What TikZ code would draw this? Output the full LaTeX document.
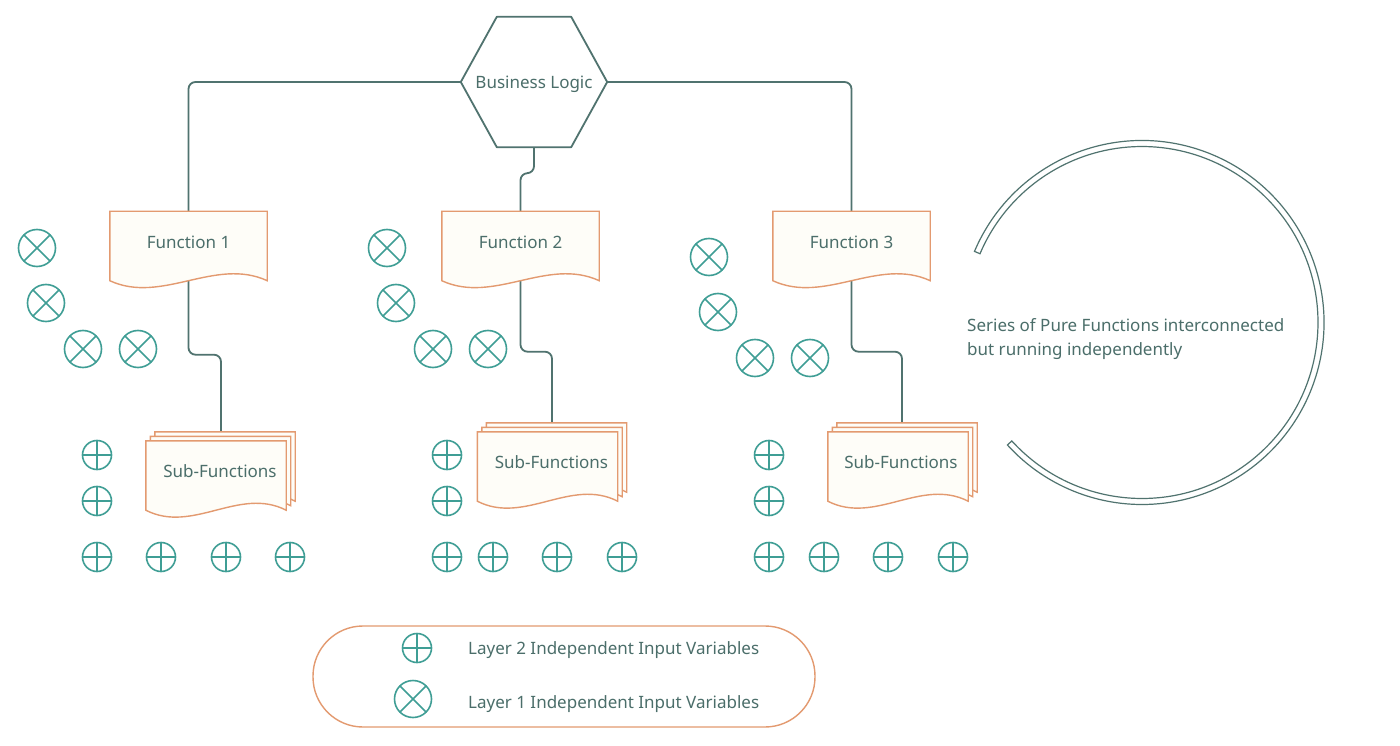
\documentclass[tikz,border=0pt]{standalone}
\usepackage{fontspec}
\setmainfont{Noto Sans}
\usetikzlibrary{calc,backgrounds}
\definecolor{lineC}{HTML}{50736F}
\definecolor{textC}{HTML}{4B6E6A}
\definecolor{orangeC}{HTML}{E39A70}
\definecolor{tealC}{HTML}{3F9E95}
\definecolor{creamC}{HTML}{FEFDF8}
\tikzset{
  conn/.style={draw=lineC, line width=1.8pt, rounded corners=7pt},
  lbl/.style={text=textC, font=\fontsize{17}{20}\selectfont},
  docbox/.style={lbl, minimum width=#1, minimum height=69pt, inner sep=0pt, text height=9pt, text depth=5pt},
  docline/.style={draw=orangeC, fill=creamC, line width=1.4pt},
  xc/.style={circle, draw=tealC, line width=1.6pt, minimum size=37pt, inner sep=0pt, fill=white,
    path picture={\draw[tealC, line width=1.6pt] (path picture bounding box.north west) -- (path picture bounding box.south east) (path picture bounding box.north east) -- (path picture bounding box.south west);}},
  pc/.style={circle, draw=tealC, line width=1.6pt, minimum size=29pt, inner sep=0pt, fill=white,
    path picture={\draw[tealC, line width=1.6pt] (path picture bounding box.north) -- (path picture bounding box.south) (path picture bounding box.west) -- (path picture bounding box.east);}},
}
\newcommand\docshape[2]{%
  \path[docline] (#1.north west) -- (#1.north east) -- (#1.south east)
    .. controls +(-#2,-24) and +(#2,24) .. (#1.south west) -- cycle;}
\begin{document}
\begin{tikzpicture}[x=1pt,y=-1pt]
\useasboundingbox (0,0) rectangle (1400,746);

% hexagon
\node[lbl, minimum width=146pt, minimum height=130pt, inner sep=0pt, text height=16pt, text depth=2pt] (hex) at (534,82) {Business Logic};

% functions
\node[docbox=157pt] (f1) at (188.5,246) {Function 1};
\node[docbox=157pt] (f2) at (520.5,246) {Function 2};
\node[docbox=157pt] (f3) at (851.5,246) {Function 3};

% sub-function stacks
\node[docbox=140pt] (s1c) at (225,466.5) {};
\node[docbox=140pt] (s1b) at (220.5,471) {};
\node[docbox=140pt] (s1)  at (216,475.5) {\hspace*{8pt}Sub-Functions};
\node[docbox=140pt] (s2c) at (556.5,457.5) {};
\node[docbox=140pt] (s2b) at (552,462) {};
\node[docbox=140pt] (s2)  at (547.5,466.5) {\hspace*{8pt}Sub-Functions};
\node[docbox=140pt] (s3c) at (907,457.5) {};
\node[docbox=140pt] (s3b) at (902.5,462) {};
\node[docbox=140pt] (s3)  at (898,466.5) {\hspace*{6pt}Sub-Functions};

\coordinate (t1) at (221,432);
\coordinate (t2) at (552,423);
\coordinate (t3) at (902,423);

\begin{scope}[on background layer]
  \fill[white] (0,0) rectangle (1400,746);
  \draw[conn] (hex.west) -| (f1.north);
  \draw[conn] (hex.east) -| (f3.north);
  \draw[conn] (hex.south) -- ++(0,26) -| (f2.north);
  \draw[conn] (f1.south) -- ++(0,74) -| (t1);
  \draw[conn] (f2.south) -- ++(0,71) -| (t2);
  \draw[conn] (f3.south) -- ++(0,71) -| (t3);
  \path[draw=lineC, line width=1.8pt, fill=white, line join=round]
    (hex.west) -- ($(hex.north west)+(36,0)$) -- ($(hex.north east)+(-36,0)$)
    -- (hex.east) -- ($(hex.south east)+(-36,0)$) -- ($(hex.south west)+(36,0)$) -- cycle;
  \docshape{f1}{52}
  \docshape{f2}{52}
  \docshape{f3}{52}
  \docshape{s1c}{47}\docshape{s1b}{47}\docshape{s1}{47}
  \docshape{s2c}{47}\docshape{s2b}{47}\docshape{s2}{47}
  \docshape{s3c}{47}\docshape{s3b}{47}\docshape{s3}{47}
\end{scope}

% layer 1 (X) circles
\node[xc] (a1) at (37,248) {};
\node[xc] (a2) at (46,303) {};
\node[xc] (a3) at (83,349) {};
\node[xc] (a4) at (138,349) {};
\node[xc] (b1) at (387,248) {};
\node[xc] (b2) at (396,303) {};
\node[xc] (b3) at (433,349) {};
\node[xc] (b4) at (488,349) {};
\node[xc] (c1) at (709,257) {};
\node[xc] (c2) at (718,312) {};
\node[xc] (c3) at (755,358) {};
\node[xc] (c4) at (810,358) {};

% layer 2 (+) circles
\node[pc] (p11) at (97,455) {};
\node[pc] (p12) at (97,501) {};
\node[pc] (p13) at (97,557) {};
\node[pc] (p14) at (161,557) {};
\node[pc] (p15) at (226,557) {};
\node[pc] (p16) at (290,557) {};
\node[pc] (p21) at (447,455) {};
\node[pc] (p22) at (447,501) {};
\node[pc] (p23) at (447,557) {};
\node[pc] (p24) at (493,557) {};
\node[pc] (p25) at (557,557) {};
\node[pc] (p26) at (622,557) {};
\node[pc] (p31) at (769,455) {};
\node[pc] (p32) at (769,501) {};
\node[pc] (p33) at (769,557) {};
\node[pc] (p34) at (824,557) {};
\node[pc] (p35) at (888,557) {};
\node[pc] (p36) at (953,557) {};

% arc band
\coordinate (C) at (1142,322.5);
\draw[draw=lineC, line width=1.2pt, fill=white]
  ($(C)+(-157:182)$) arc[start angle=-157, end angle=137.7, radius=182]
  -- ($(C)+(137.7:176)$) arc[start angle=137.7, end angle=-157, radius=176] -- cycle;
\node[lbl, anchor=base west, inner sep=0pt] (ser1) at (967,331) {Series of Pure Functions interconnected};
\node[lbl, anchor=base west, inner sep=0pt] (ser2) at (967,355) {but running independently};

% legend
\node[draw=orangeC, line width=1.4pt, rounded corners=50pt, minimum width=502pt, minimum height=101pt, fill=white] (legend) at (564,676.5) {};
\node[pc] (lp) at (417,648) {};
\node[xc] (lx) at (413,699) {};
\node[lbl, anchor=base west, inner sep=0pt] (l2) at (468,654) {Layer 2 Independent Input Variables};
\node[lbl, anchor=base west, inner sep=0pt] (l1) at (468,708) {Layer 1 Independent Input Variables};
\end{tikzpicture}
\end{document}
